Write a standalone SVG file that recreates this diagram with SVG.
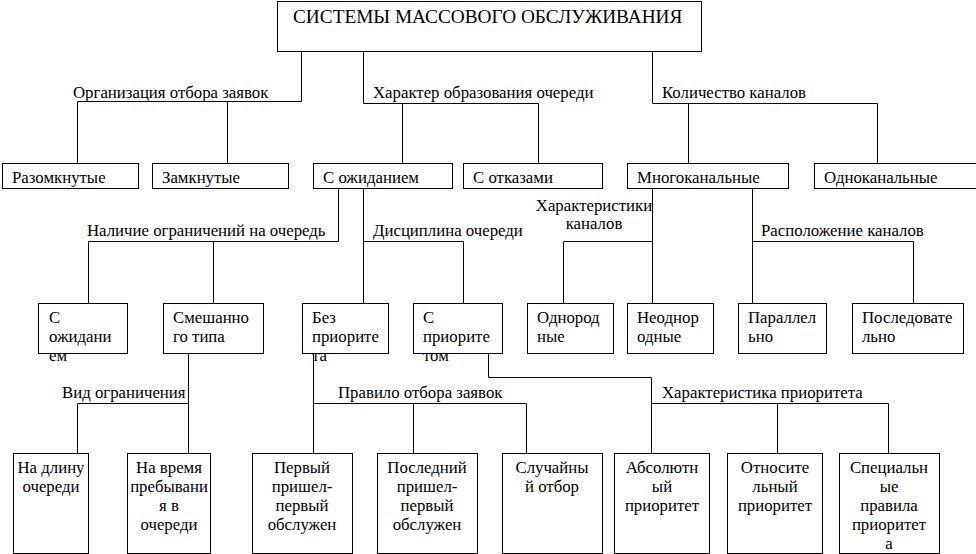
<svg xmlns="http://www.w3.org/2000/svg" width="976" height="554" viewBox="0 0 976 554" font-family="'Liberation Serif', 'Times New Roman', serif" font-size="16.8">
<style>
rect{fill:#fff;stroke:#000;stroke-width:1}
path{fill:none;stroke:#000;stroke-width:1}
text{fill:#000}
.t{font-size:19.3px}
.m{text-anchor:middle}
</style>
<rect width="976" height="554" style="stroke:none"/>
<g id="connectors">
<path d="M301.5,51 V101.5 H77.5 V163 M227.5,101.5 V163"/>
<path d="M363.5,51 V103.5 H538.5 V163 M402.5,103.5 V163"/>
<path d="M652.5,51 V103.5 H877.5 V163 M688.5,103.5 V163"/>
<path d="M338.5,188 V241.5 H88.5 V303 M213.5,241.5 V303"/>
<path d="M363.5,188 V303 M363.5,241.5 H463.5 V303"/>
<path d="M652.5,188 V303 M652.5,241.5 H563.5 V303"/>
<path d="M752.5,188 V303 M752.5,241.5 H913.5 V303"/>
<path d="M188.5,353 V453 M188.5,403.5 H77.5 V453"/>
<path d="M313.5,353 V453 M313.5,403.5 H526.5 V453 M413.5,403.5 V453"/>
<path d="M488.5,353 V377.5 H651.5 V453 M651.5,403.5 H888.5 V453 M777.5,403.5 V453"/>
<text x="73" y="98">Организация отбора заявок</text>
<text x="373" y="98">Характер образования очереди</text>
<text x="662" y="98">Количество каналов</text>
<text x="87" y="236">Наличие ограничений на очередь</text>
<text x="373" y="236">Дисциплина очереди</text>
<text x="594" y="211" class="m">Характеристики</text>
<text x="594" y="229" class="m">каналов</text>
<text x="761" y="236">Расположение каналов</text>
<text x="62" y="398">Вид ограничения</text>
<text x="338" y="398">Правило отбора заявок</text>
<text x="662" y="398">Характеристика приоритета</text>
</g>
<g id="root"><rect x="277.5" y="1.5" width="424" height="50"/><text class="t" x="293" y="23">СИСТЕМЫ МАССОВОГО ОБСЛУЖИВАНИЯ</text></g>
<g id="razomknutye"><rect x="2.5" y="163.5" width="136" height="25"/><text x="12" y="183">Разомкнутые</text></g>
<g id="zamknutye"><rect x="152.5" y="163.5" width="136" height="25"/><text x="162" y="183">Замкнутые</text></g>
<g id="s-ozhidaniem"><rect x="313.5" y="163.5" width="139" height="25"/><text x="323" y="183">С ожиданием</text></g>
<g id="s-otkazami"><rect x="463.5" y="163.5" width="139" height="25"/><text x="473" y="183">С отказами</text></g>
<g id="mnogokanalnye"><rect x="627.5" y="163.5" width="161" height="25"/><text x="637" y="183">Многоканальные</text></g>
<g id="odnokanalnye"><rect x="814.5" y="163.5" width="170" height="25"/><text x="824" y="183">Одноканальные</text></g>
<g id="s-ozhidaniem-2"><rect x="38.5" y="303.5" width="89" height="50"/><text x="49" y="323">С</text><text x="49" y="342">ожидани</text><text x="49" y="361">ем</text></g>
<g id="smeshannogo"><rect x="163.5" y="303.5" width="100" height="50"/><text x="173" y="323">Смешанно</text><text x="173" y="342">го типа</text></g>
<g id="bez-prioriteta"><rect x="302.5" y="303.5" width="86" height="50"/><text x="312" y="323">Без</text><text x="312" y="342">приорите</text><text x="312" y="361">та</text></g>
<g id="s-prioritetom"><rect x="413.5" y="303.5" width="89" height="50"/><text x="423" y="323">С</text><text x="423" y="342">приорите</text><text x="423" y="361">том</text></g>
<g id="odnorodnye"><rect x="527.5" y="303.5" width="86" height="50"/><text x="537" y="323">Однород</text><text x="537" y="342">ные</text></g>
<g id="neodnorodnye"><rect x="627.5" y="303.5" width="86" height="50"/><text x="637" y="323">Неоднор</text><text x="637" y="342">одные</text></g>
<g id="parallelno"><rect x="738.5" y="303.5" width="88" height="50"/><text x="748" y="323">Параллел</text><text x="748" y="342">ьно</text></g>
<g id="posledovatelno"><rect x="852.5" y="303.5" width="111" height="50"/><text x="862" y="323">Последовате</text><text x="862" y="342">льно</text></g>
<g id="na-dlinu"><rect x="13.5" y="453.5" width="75" height="100"/><text class="m" x="51" y="473">На длину</text><text class="m" x="51" y="492">очереди</text></g>
<g id="na-vremya"><rect x="127.5" y="453.5" width="83" height="100"/><text class="m" x="169" y="473">На время</text><text class="m" x="169" y="492">пребывани</text><text class="m" x="169" y="511">я в</text><text class="m" x="169" y="530">очереди</text></g>
<g id="pervyj"><rect x="252.5" y="453.5" width="100" height="100"/><text class="m" x="302" y="473">Первый</text><text class="m" x="302" y="492">пришел-</text><text class="m" x="302" y="511">первый</text><text class="m" x="302" y="530">обслужен</text></g>
<g id="poslednij"><rect x="377.5" y="453.5" width="100" height="100"/><text class="m" x="427" y="473">Последний</text><text class="m" x="427" y="492">пришел-</text><text class="m" x="427" y="511">первый</text><text class="m" x="427" y="530">обслужен</text></g>
<g id="sluchajnyj"><rect x="502.5" y="453.5" width="100" height="100"/><text class="m" x="552" y="473">Случайны</text><text class="m" x="552" y="492">й отбор</text></g>
<g id="absolyutnyj"><rect x="614.5" y="453.5" width="95" height="100"/><text class="m" x="662" y="473">Абсолютн</text><text class="m" x="662" y="492">ый</text><text class="m" x="662" y="511">приоритет</text></g>
<g id="otnositelnyj"><rect x="727.5" y="453.5" width="95" height="100"/><text class="m" x="775" y="473">Относите</text><text class="m" x="775" y="492">льный</text><text class="m" x="775" y="511">приоритет</text></g>
<g id="specialnye"><rect x="839.5" y="453.5" width="100" height="100"/><text class="m" x="889" y="473">Специальн</text><text class="m" x="889" y="492">ые</text><text class="m" x="889" y="511">правила</text><text class="m" x="889" y="530">приоритет</text><text class="m" x="889" y="549">а</text></g>
</svg>
